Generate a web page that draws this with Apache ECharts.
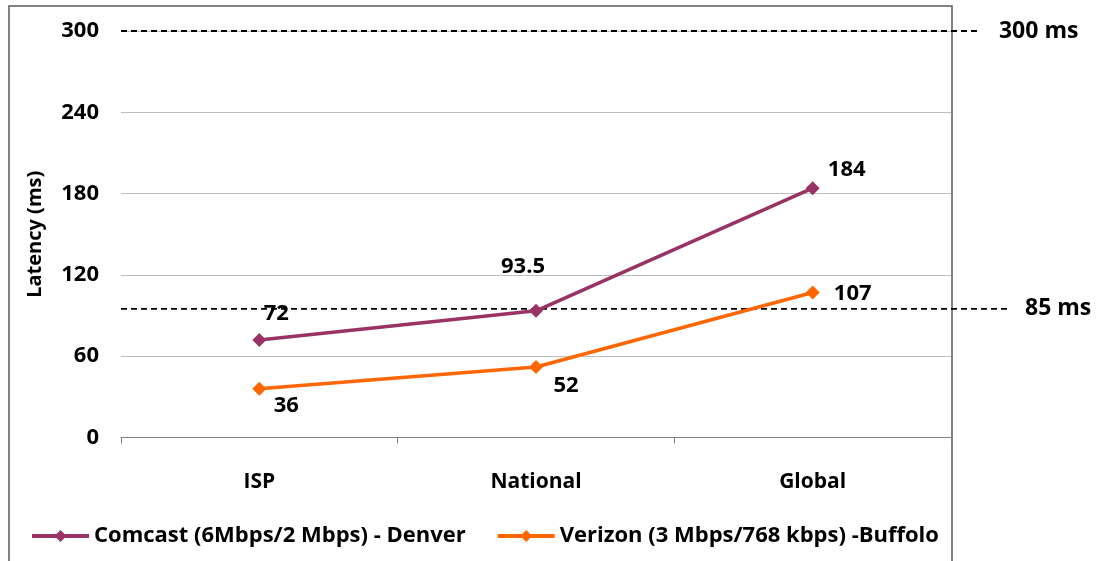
<!DOCTYPE html>
<html>
<head>
<meta charset="utf-8">
<script src="https://cdn.jsdelivr.net/npm/echarts@6/dist/echarts.min.js"></script>
<style>
  html, body { margin: 0; padding: 0; background: #fff; }
  #main { width: 1102px; height: 561px; }
</style>
</head>
<body>
<div id="main"></div>
<script>
// categories and values
var categories = ['ISP', 'National', 'Global']
var comcast = [72, 93.5, 184]
var verizon = [36, 52, 107]
var seriesNames = ['Comcast (6Mbps/2 Mbps) - Denver', 'Verizon (3 Mbps/768 kbps) -Buffolo']
// reference lines: value, label, how far right it runs (share of the wide grid)
var refValues = [300, 95]
var refLabels = ['300 ms', '85 ms']
var refEnds = [0.965, 1]
var yTicks = [0, 60, 120, 180, 240, 300]

var font = 'Open Sans'
var myChart = echarts.init(document.getElementById('main'))

// label offsets for each point, so the numbers sit where they do in the picture
var comcastOffsets = [[17, -3], [-13, -21], [34, 5]]
var verizonOffsets = [[27, 40], [30, 42], [40, 24]]

function withLabels (values, offsets) {
  return values.map(function (v, i) {
    return { value: v, label: { offset: offsets[i] } }
  })
}

var labelStyle = {
  show: true,
  position: 'top',
  color: '#000',
  fontFamily: font,
  fontWeight: 'bold',
  fontSize: 22
}

var refSeries = refValues.map(function (v, i) {
  return {
    type: 'line',
    xAxisIndex: 1,
    yAxisIndex: 1,
    silent: true,
    symbol: 'none',
    lineStyle: { color: '#000', width: 1.8, type: [6, 4] },
    data: [[0, v], [refEnds[i], v]],
    endLabel: {
      show: true,
      formatter: refLabels[i],
      distance: i === 0 ? 22 : 17,
      color: '#000',
      fontFamily: font,
      fontWeight: 'bold',
      fontSize: 23
    },
    z: 1
  }
})

var option = {
  animation: false,
  backgroundColor: '#fff',
  textStyle: { fontFamily: font },
  graphic: [{
    type: 'rect',
    shape: { x: 9, y: 6, width: 943, height: 600 },
    style: { fill: 'none', stroke: '#595959', lineWidth: 1.5 },
    silent: true
  }],
  grid: [
    { left: 121, right: 151, top: 31, bottom: 123.5 },
    // wider grid only for the dashed reference lines that run past the plot
    { left: 121, right: 94, top: 31, bottom: 123.5 }
  ],
  legend: {
    data: seriesNames,
    left: 25,
    top: 520,
    itemWidth: 57,
    itemHeight: 15,
    itemGap: 30,
    lineStyle: { width: 4 },
    textStyle: { color: '#000', fontFamily: font, fontWeight: 'bold', fontSize: 22 }
  },
  xAxis: [{
    type: 'category',
    gridIndex: 0,
    data: categories,
    boundaryGap: true,
    axisLine: { lineStyle: { color: '#7f7f7f', width: 1 } },
    axisTick: { show: true, length: 6, inside: false, lineStyle: { color: '#7f7f7f' } },
    axisLabel: { color: '#000', fontFamily: font, fontWeight: 'bold', fontSize: 21, margin: 34 }
  }, {
    type: 'value',
    gridIndex: 1,
    min: 0,
    max: 1,
    show: false
  }],
  yAxis: [{
    type: 'value',
    gridIndex: 0,
    min: yTicks[0],
    max: yTicks[yTicks.length - 1],
    interval: 60,
    name: 'Latency (ms)',
    nameLocation: 'middle',
    nameGap: 76,
    nameTextStyle: { color: '#000', fontFamily: font, fontWeight: 'bold', fontSize: 20 },
    axisLine: { show: false },
    axisTick: { show: false },
    axisLabel: { color: '#000', fontFamily: font, fontWeight: 'bold', fontSize: 22, margin: 22 },
    splitLine: { lineStyle: { color: '#bfbfbf', width: 1 } }
  }, {
    type: 'value',
    gridIndex: 1,
    min: yTicks[0],
    max: yTicks[yTicks.length - 1],
    show: false
  }],
  series: refSeries.concat([{
    name: seriesNames[0],
    type: 'line',
    data: withLabels(comcast, comcastOffsets),
    symbol: 'diamond',
    symbolSize: 14,
    color: '#993366',
    lineStyle: { width: 3.5, color: '#993366' },
    itemStyle: { color: '#993366' },
    label: labelStyle,
    z: 3
  }, {
    name: seriesNames[1],
    type: 'line',
    data: withLabels(verizon, verizonOffsets),
    symbol: 'diamond',
    symbolSize: 14,
    color: '#ff6600',
    lineStyle: { width: 3.5, color: '#ff6600' },
    itemStyle: { color: '#ff6600' },
    label: labelStyle,
    z: 3
  }])
}

myChart.setOption(option)
</script>
</body>
</html>
